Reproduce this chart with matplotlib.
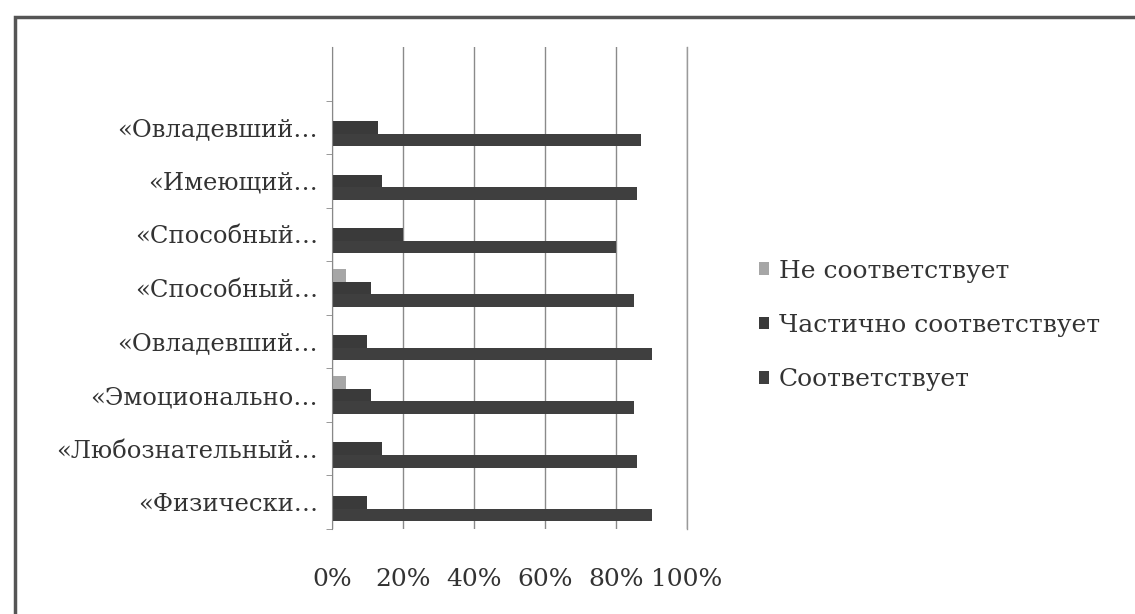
import matplotlib
matplotlib.use("Agg")
import matplotlib.pyplot as plt
import numpy as np
from matplotlib.patches import Rectangle

plt.rcParams['font.family'] = ['DejaVu Serif', 'Liberation Serif']

# categories from bottom to top
categories = ["«Физически…", "«Любознательный…", "«Эмоционально…", "«Овладевший…",
              "«Способный…", "«Способный…", "«Имеющий…", "«Овладевший…"]
not_match = [0, 0, 4, 0, 4, 0, 0, 0]
partial = [10, 14, 11, 10, 11, 20, 14, 13]
match = [90, 86, 85, 90, 85, 80, 86, 87]
series_names = ["Не соответствует", "Частично соответствует", "Соответствует"]
x_ticks = [0, 20, 40, 60, 80, 100]
x_labels = ["0%", "20%", "40%", "60%", "80%", "100%"]

fig = plt.figure(figsize=(11.35, 6.14), dpi=100)
ax = fig.add_axes([0.2925, 0.1384, 0.3128, 0.785])

y = np.arange(len(categories))
h = 0.235
b1 = ax.barh(y + h, not_match, h, color="#a6a6a6", label=series_names[0])
b2 = ax.barh(y, partial, h, color="#3a3a3a", label=series_names[1])
b3 = ax.barh(y - h, match, h, color="#3f3f3f", label=series_names[2])

ax.set_xlim(0, 100)
ax.set_ylim(-0.5, len(categories) + 0.5)
ax.set_xticks(x_ticks)
ax.set_xticklabels(x_labels, fontsize=18, color="#333333")
ax.tick_params(axis="x", length=0, pad=28)
ax.set_yticks(y)
ax.set_yticklabels(categories, fontsize=17.5, color="#333333")
ax.tick_params(axis="y", length=0, pad=10)
ax.set_yticks(np.arange(-0.5, len(categories) + 0.5, 1), minor=True)
ax.tick_params(axis="y", which="minor", length=4, color="#888888")
ax.xaxis.grid(True, color="#8a8a8a", linewidth=1.0)
ax.set_axisbelow(True)
for s in ["top", "right", "bottom"]:
    ax.spines[s].set_visible(False)
ax.spines["left"].set_color("#888888")
# the 100% gridline sits on the edge, draw it unclipped
ax.axvline(100, color="#9a9a9a", linewidth=1.0, clip_on=False, zorder=0)

fig.legend(handles=[b1, b2, b3], labels=series_names, loc="center left",
           bbox_to_anchor=(0.6485, 0.47), frameon=False, fontsize=18,
           handlelength=0.42, handleheight=0.42, handletextpad=0.4,
           labelspacing=1.25, labelcolor="#333333")

# outer frame of the chart
fig.patches.append(Rectangle((15 / 1135, -0.05), 1.2, 1 - 17 / 614 + 0.05,
                             transform=fig.transFigure, fill=False,
                             edgecolor="#555555", linewidth=2.5))

fig.savefig("out.png", dpi=100)
